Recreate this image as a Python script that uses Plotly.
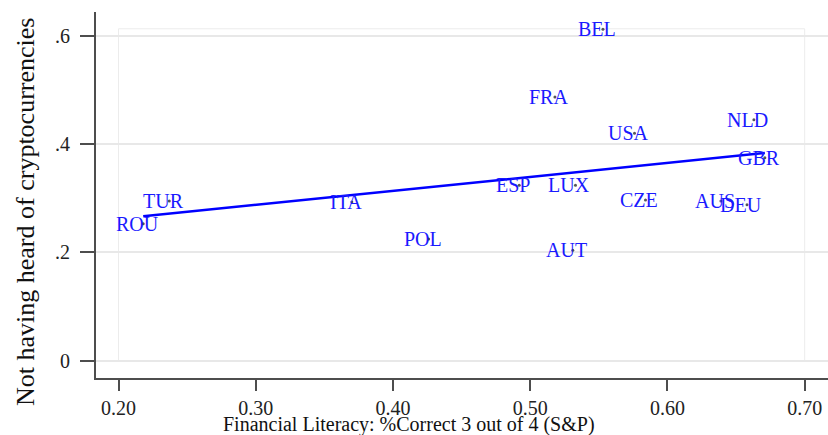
import numpy as np
import plotly.graph_objects as go

countries = ["TUR", "ROU", "ITA", "POL", "BEL", "FRA", "NLD", "USA", "GBR",
             "ESP", "LUX", "CZE", "AUS", "DEU", "AUT"]
fin_lit = [0.237, 0.218, 0.370, 0.426, 0.553, 0.518, 0.663, 0.576, 0.671,
           0.492, 0.533, 0.584, 0.639, 0.658, 0.531]
not_heard = [0.295, 0.253, 0.293, 0.225, 0.612, 0.487, 0.445, 0.420, 0.375,
             0.324, 0.324, 0.297, 0.295, 0.288, 0.204]

x_ticks = [0.2, 0.3, 0.4, 0.5, 0.6, 0.7]
x_tick_labels = ["0.20", "0.30", "0.40", "0.50", "0.60", "0.70"]
y_ticks = [0, 0.2, 0.4, 0.6]
y_tick_labels = ["0", ".2", ".4", ".6"]

x_title = "Financial Literacy: %Correct 3 out of 4 (S&P)"
y_title = "Not having heard of cryptocurrencies"

serif = "Liberation Serif, Times New Roman, serif"

# linear fit (lfit)
slope, intercept = np.polyfit(fin_lit, not_heard, 1)
fx = np.array([min(fin_lit), max(fin_lit)])
fy = intercept + slope * fx

fig = go.Figure()
fig.add_trace(go.Scatter(
    x=fin_lit, y=not_heard, mode="markers",
    marker=dict(size=3, color="#555555"),
    showlegend=False, hoverinfo="skip"))

for c, xv, yv in zip(countries, fin_lit, not_heard):
    fig.add_annotation(x=xv, y=yv, xref="x", yref="y", text=c, showarrow=False,
                       xanchor="center", yanchor="middle", xshift=-6, yshift=0,
                       font=dict(family=serif, size=20, color="#1a1aff"))

fig.add_trace(go.Scatter(
    x=fx, y=fy, mode="lines", line=dict(color="#0000ff", width=2.5),
    showlegend=False, hoverinfo="skip"))

# plot region box (Stata style)
fig.add_shape(type="rect", xref="x", yref="y", x0=0.2, x1=0.7, y0=0, y1=0.613,
              line=dict(color="#ececec", width=1), layer="below")

fig.update_xaxes(
    range=[0.1836, 0.717], tickvals=x_ticks, ticktext=x_tick_labels,
    showgrid=False, zeroline=False, showline=True, linecolor="#4d4d4d",
    linewidth=2, ticks="outside", ticklen=11, tickwidth=1.5, tickcolor="#4d4d4d",
    tickfont=dict(family=serif, size=20, color="#222222"))
fig.update_yaxes(
    range=[-0.0318, 0.644], tickvals=y_ticks, ticktext=y_tick_labels,
    showgrid=True, gridcolor="#e8e8e8", gridwidth=2, zeroline=False,
    showline=True, linecolor="#4d4d4d", linewidth=2, ticks="outside",
    ticklen=14, tickwidth=1.5, tickcolor="#4d4d4d", ticklabelstandoff=6,
    tickfont=dict(family=serif, size=20, color="#222222"))

fig.add_annotation(text=y_title, xref="paper", yref="paper", x=0, y=0.4536,
                   xshift=-70, xanchor="center", yanchor="middle", textangle=-90,
                   showarrow=False, font=dict(family=serif, size=26, color="#111111"))
fig.add_annotation(text=x_title, xref="paper", yref="paper", x=0.4276, y=-0.1257,
                   xanchor="center", yanchor="middle", showarrow=False,
                   font=dict(family=serif, size=20, color="#111111"))

fig.update_layout(
    width=828, height=435, margin=dict(l=96, r=0, t=12, b=57),
    paper_bgcolor="white", plot_bgcolor="white")

fig.write_html("out.html")
